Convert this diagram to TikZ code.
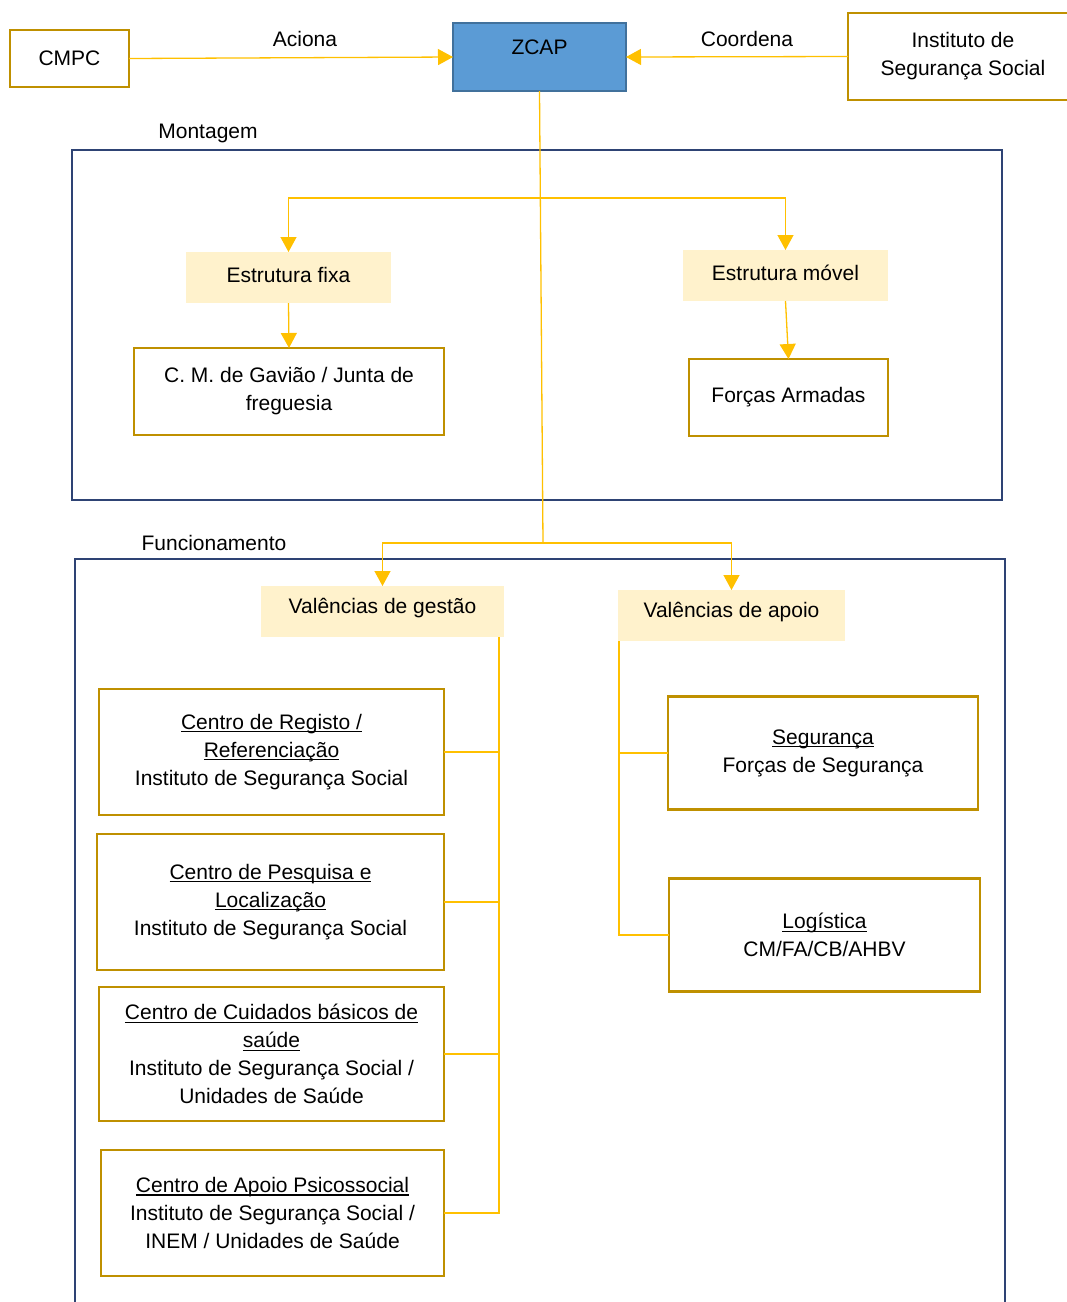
\documentclass[tikz,border=0pt]{standalone}
\usepackage{fontspec}
\setmainfont{Liberation Sans}
\usetikzlibrary{arrows.meta}
\definecolor{gold}{HTML}{BF9000}
\definecolor{conn}{HTML}{FFC000}
\definecolor{navy}{HTML}{2E4374}
\definecolor{paleyellow}{HTML}{FFF2CC}
\definecolor{zfill}{HTML}{5B9BD5}
\definecolor{zborder}{HTML}{41719C}
\newsavebox\ulbox
\newcommand\ulx[1]{\sbox\ulbox{#1}\rlap{\rule[-3pt]{\wd\ulbox}{1.1pt}}\usebox\ulbox}
\newcommand\fs{\fontsize{21}{28}\selectfont}
\newcommand\up[1]{\raisebox{3pt}[\height][\depth]{#1}}
\tikzset{
  goldbox/.style={draw=gold, line width=2.6pt, fill=white, inner sep=0pt, outer sep=0pt, align=center, font=\fs},
  hlbox/.style={fill=paleyellow, inner sep=0pt, outer sep=0pt, align=center, font=\fs, minimum height=51},
  txt/.style={inner sep=0pt, font=\fs},
  line/.style={draw=conn, line width=1.3pt},
  arr/.style={line, -{Triangle[width=16pt,length=15pt]}},
  frame/.style={draw=navy, line width=2.5pt}
}
\begin{document}
\begin{tikzpicture}[x=1pt,y=-1pt]
\useasboundingbox (0,0) rectangle (1067,1302);
% frames
\draw[frame] (72,150) rectangle (1002,500);
\draw[frame] (75,559) rectangle (1005,1330);
\node[txt] (montl) at (208,133) {Montagem};
\node[txt] (funcl) at (214,543) {Funcionamento};
% top row
\node[goldbox, minimum width=119, minimum height=57] (cmpc) at (69.5,58.5) {CMPC};
\node[draw=zborder, fill=zfill, line width=2pt, inner sep=0pt, outer sep=0pt, minimum width=173, minimum height=68] (zcap) at (539.5,57) {};
\node[txt] (zcapt) at (539.5,47) {ZCAP};
\node[goldbox, minimum width=230, minimum height=87] (inst) at (963,56.5) {Instituto de\\Segurança Social};
\node[txt] (acl) at (305,39) {Aciona};
\node[txt] (col) at (747,39) {Coordena};
% montagem
\node[hlbox, minimum width=205] (efixa) at (288.5,277.5) {\up{Estrutura fixa}};
\node[hlbox, minimum width=205] (emovel) at (785.5,275.5) {\up{Estrutura móvel}};
\node[goldbox, minimum width=310, minimum height=87] (cmg) at (289,391.5) {C. M. de Gavião / Junta de\\freguesia};
\node[goldbox, minimum width=199, minimum height=77] (fa) at (788.5,397.5) {Forças Armadas};
% funcionamento
\node[hlbox, minimum width=243] (vgest) at (382.5,611.5) {\up{Valências de gestão}};
\node[hlbox, minimum width=227] (vapoio) at (731.5,615.5) {\up{Valências de apoio}};
\node[goldbox, minimum width=345, minimum height=126] (c1) at (271.5,752) {\ulx{Centro de Registo /}\\\ulx{Referenciação}\\Instituto de Segurança Social};
\node[goldbox, minimum width=347, minimum height=136] (c2) at (270.5,902) {\ulx{Centro de Pesquisa e}\\\ulx{Localização}\\Instituto de Segurança Social};
\node[goldbox, minimum width=345, minimum height=134] (c3) at (271.5,1054) {\ulx{Centro de Cuidados básicos de}\\\ulx{saúde}\\Instituto de Segurança Social /\\Unidades de Saúde};
\node[goldbox, minimum width=343, minimum height=126] (c4) at (272.5,1213) {\ulx{Centro de Apoio Psicossocial}\\Instituto de Segurança Social /\\INEM / Unidades de Saúde};
\node[goldbox, minimum width=310, minimum height=113] (seg) at (823,753) {\ulx{Segurança}\\Forças de Segurança};
\node[goldbox, minimum width=311, minimum height=113] (log) at (824.5,935) {\ulx{Logística}\\CM/FA/CB/AHBV};
% connectors
\draw[arr] (cmpc.east) -- (zcap.west);
\draw[arr] (inst.west) -- (zcap.east);
\coordinate (jm) at (540,198);
\coordinate (jf) at (543,543);
\draw[line] (zcap.south) -- (jf);
\draw[arr] (jm) -| (efixa.north);
\draw[arr] (jm) -| (emovel.north);
\draw[arr] (efixa.south) -- (cmg.north);
\draw[arr] (emovel.south) -- (fa.north);
\draw[arr] (jf) -| (vgest.north);
\draw[arr] (jf) -| (vapoio.north);
\coordinate (gb) at (499,637);
\draw[line] (gb) |- (c4.east);
\draw[line] (c1.east) -- (c1.east -| gb);
\draw[line] (c2.east) -- (c2.east -| gb);
\draw[line] (c3.east) -- (c3.east -| gb);
\coordinate (ab) at (619,641);
\draw[line] (ab) |- (log.west);
\draw[line] (seg.west) -- (seg.west -| ab);
\end{tikzpicture}
\end{document}
